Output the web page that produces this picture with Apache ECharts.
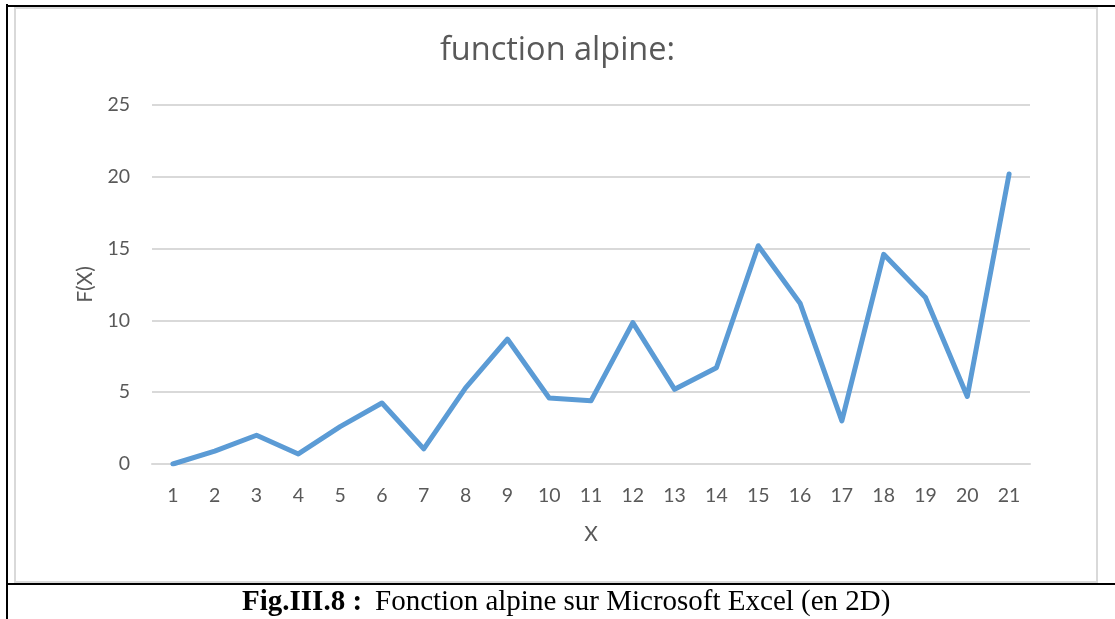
<!DOCTYPE html>
<html><head><meta charset="utf-8">
<script src="https://cdn.jsdelivr.net/npm/echarts@6/dist/echarts.min.js"></script>
<style>html,body{margin:0;padding:0;background:#fff}#c{width:1115px;height:619px}</style>
</head><body><div id="c"></div>
<script>
const categories = ['1','2','3','4','5','6','7','8','9','10','11','12','13','14','15','16','17','18','19','20','21'];
const fx = [0, 0.9, 2.0, 0.7, 2.6, 4.25, 1.05, 5.3, 8.7, 4.6, 4.4, 9.85, 5.2, 6.7, 15.2, 11.2, 3.0, 14.6, 11.6, 4.7, 20.2];
const yTicks = [0, 5, 10, 15, 20, 25];

const chart = echarts.init(document.getElementById('c'), null, {renderer:'canvas'});
const font = 'Lato, "Open Sans", "Liberation Sans", sans-serif';
const serif = '"Liberation Serif", "Times New Roman", serif';
chart.setOption({
  animation:false,
  backgroundColor:'#fff',
  title:{text:'function alpine:', left:'center', top:29,
    textStyle:{fontFamily:'"Open Sans", sans-serif', fontSize:32.5, fontWeight:'normal', color:'#595959'}},
  grid:{left:152, right:85, top:105, bottom:155},
  xAxis:{type:'category', data:categories, boundaryGap:true,
    name:'X', nameLocation:'middle', nameGap:60,
    nameTextStyle:{fontFamily:font, fontSize:21, color:'#595959'},
    axisLine:{lineStyle:{color:'#d9d9d9', width:2}}, axisTick:{show:false},
    axisLabel:{fontFamily:font, fontSize:19.5, color:'#595959', margin:22}},
  yAxis:{type:'value', min:yTicks[0], max:yTicks[yTicks.length-1], interval:5,
    name:'F(X)', nameLocation:'middle', nameGap:56, nameRotate:90,
    nameTextStyle:{fontFamily:font, fontSize:21, color:'#595959'},
    axisLine:{show:false}, axisTick:{show:false},
    axisLabel:{fontFamily:font, fontSize:19.5, color:'#595959', margin:22},
    splitLine:{lineStyle:{color:'#d9d9d9', width:2}}},
  series:[{type:'line', data:fx, symbol:'none', lineStyle:{color:'#5b9bd5', width:5, cap:'round', join:'round'}}],
  graphic:[
    {type:'rect', shape:{x:15, y:8, width:1082, height:574}, style:{fill:null, stroke:'#d9d9d9', lineWidth:2}, silent:true},
    {type:'line', shape:{x1:7, y1:4, x2:7, y2:619}, style:{stroke:'#000', lineWidth:2}},
    {type:'line', shape:{x1:6, y1:6, x2:1115, y2:6}, style:{stroke:'#000', lineWidth:2}},
    {type:'line', shape:{x1:6, y1:584, x2:1115, y2:584}, style:{stroke:'#000', lineWidth:2}},
    {type:'text', left:242, top:588, style:{
      text:'{b|Fig.III.8 :}{r|Fonction alpine sur Microsoft Excel (en 2D)}',
      rich:{b:{fontFamily:serif, fontWeight:'bold', fontSize:29, fill:'#000', padding:[0,13,0,0]},
            r:{fontFamily:serif, fontSize:29, fill:'#000'}}}}
  ]
});
</script></body></html>
